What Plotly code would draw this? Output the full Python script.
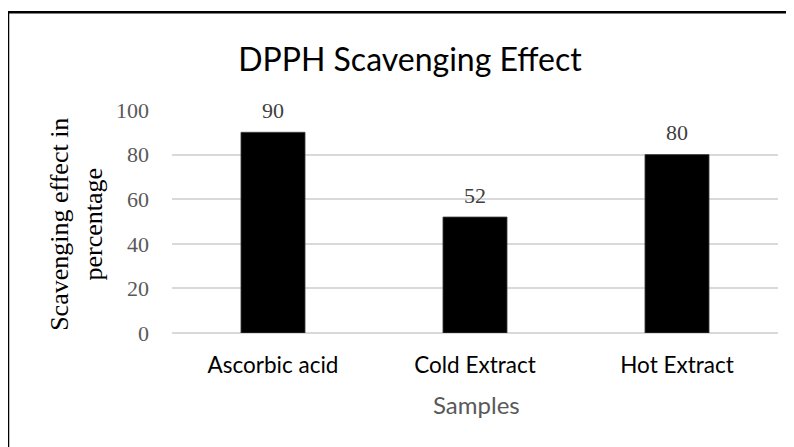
import plotly.graph_objects as go

categories = ["Ascorbic acid", "Cold Extract", "Hot Extract"]
values = [90, 52, 80]
y_ticks = [0, 20, 40, 60, 80, 100]

W, H = 794, 447
OFF = 8  # page body margin offset
# plot area in page pixels
PX0, PX1, PY0, PY1 = 172, 778, 110, 333.3
L = PX0 - OFF
R = W - (PX1 - OFF)
T = PY0 - OFF
B = H - (PY1 - OFF)
pw, ph = PX1 - PX0, PY1 - PY0

def px_x(x):
    return (x - PX0) / pw

def px_y(y):
    return (PY1 - y) / ph

fig = go.Figure(go.Bar(
    x=categories, y=values,
    marker=dict(color="black", line=dict(width=0.8, color="#404040")),
    width=0.317,
    cliponaxis=False,
))

for c, v in zip(categories, values):
    fig.add_annotation(x=c, y=v, text=str(v), showarrow=False, xanchor="center",
                       yanchor="middle", yshift=22,
                       font=dict(family="Liberation Serif", size=22, color="#404040"))

fig.update_layout(
    width=W, height=H,
    margin=dict(l=L, r=R, t=T, b=B),
    plot_bgcolor="white", paper_bgcolor="white",
    showlegend=False,
    title=dict(text="DPPH Scavenging Effect", x=(410 - OFF) / W, xref="container", xanchor="center",
               y=1 - (60 - OFF) / H, yref="container", yanchor="middle",
               font=dict(family="Lato", size=32, color="black")),
    xaxis=dict(showline=False, ticks="", tickfont=dict(family="Lato", size=22.5, color="black"),
               ticklabelstandoff=16, showgrid=False, zeroline=False),
    yaxis=dict(range=[0, 100], tickvals=y_ticks, showgrid=True, gridcolor="#d9d9d9", gridwidth=1.5,
               zeroline=True, zerolinecolor="#d9d9d9", zerolinewidth=1.5, showline=False, ticks="",
               tickfont=dict(family="Liberation Serif", size=22, color="#595959"),
               ticklabelstandoff=22),
    font=dict(family="Lato"),
)

fig.add_annotation(text="Scavenging effect in<br>percentage", xref="paper", yref="paper",
                   x=px_x(77), y=px_y(225), textangle=-90, showarrow=False,
                   xanchor="center", yanchor="middle",
                   font=dict(family="Liberation Serif", size=26, color="black"))
fig.add_annotation(text="Samples", xref="paper", yref="paper",
                   x=px_x(476), y=px_y(405), showarrow=False,
                   xanchor="center", yanchor="middle",
                   font=dict(family="Lato", size=24, color="#595959"))

# frame (top and left edges visible)
fig.add_shape(type="line", xref="paper", yref="paper", x0=px_x(8), x1=px_x(820),
              y0=px_y(12), y1=px_y(12), line=dict(color="black", width=2.5))
fig.add_shape(type="line", xref="paper", yref="paper", x0=px_x(8), x1=px_x(8),
              y0=px_y(11), y1=px_y(470), line=dict(color="black", width=2.5))

fig.write_html("out.html")
